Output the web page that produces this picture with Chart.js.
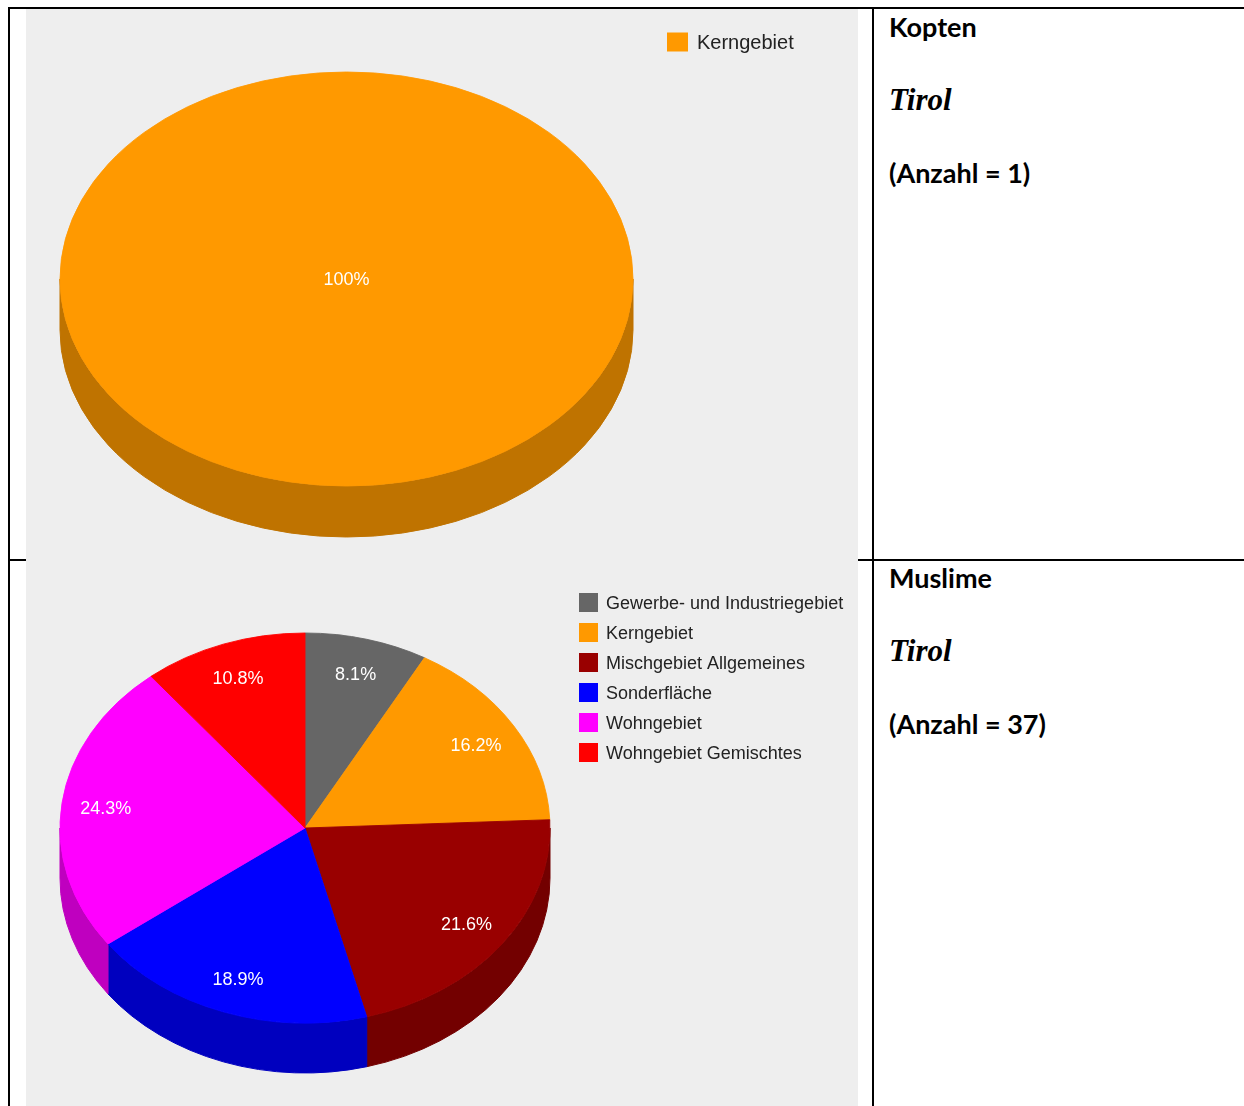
<!DOCTYPE html>
<html>
<head>
<meta charset="utf-8">
<title>Flächenwidmung – Tirol</title>
<script src="https://cdn.jsdelivr.net/npm/chart.js@4.4.1/dist/chart.umd.min.js"></script>
<style>
  html, body { margin: 0; padding: 0; background: #ffffff; }
  body { width: 1244px; height: 1106px; position: relative; overflow: hidden; }
  #frame { position: absolute; left: 0; top: 0; }
  .cell { position: absolute; background: #eeeeee; }
  .cell canvas { display: block; }
  .t-head { font-family: Lato, "Open Sans", sans-serif; font-weight: 700; font-size: 27px; fill: #000; }
  .t-region { font-family: "Liberation Serif", "DejaVu Serif", serif; font-style: italic; font-weight: 700; font-size: 31px; fill: #000; }
</style>
</head>
<body>

<svg id="frame" width="1244" height="1106">
  <!-- table rules -->
  <rect x="8" y="7" width="1236" height="2" fill="#000"/>
  <rect x="8" y="7" width="2" height="1099" fill="#000"/>
  <rect x="872" y="7" width="2" height="1099" fill="#000"/>
  <rect x="8" y="559" width="1236" height="2" fill="#000"/>
  <!-- right-hand column -->
  <text id="h1" class="t-head" x="889" y="37"></text>
  <text id="r1" class="t-region" x="889" y="110"></text>
  <text id="n1" class="t-head" x="889" y="183"></text>
  <text id="h2" class="t-head" x="889" y="588"></text>
  <text id="r2" class="t-region" x="889" y="661"></text>
  <text id="n2" class="t-head" x="889" y="734"></text>
</svg>

<div class="cell" style="left:26px;top:9px;width:832px;height:551px">
  <canvas id="pieKopten" width="832" height="551"></canvas>
</div>
<div class="cell" style="left:26px;top:560px;width:832px;height:546px">
  <canvas id="pieMuslime" width="832" height="546"></canvas>
</div>

<script>
// ---- data ----
const region = 'Tirol';

const groupKopten = 'Kopten';
const categoriesKopten = ['Kerngebiet'];
const countsKopten = [1];

const groupMuslime = 'Muslime';
const categoriesMuslime = [
  'Gewerbe- und Industriegebiet',
  'Kerngebiet',
  'Mischgebiet Allgemeines',
  'Sonderfläche',
  'Wohngebiet',
  'Wohngebiet Gemischtes'
];
const countsMuslime = [3, 6, 8, 7, 9, 4];

// ---- styles ----
const colorsKopten = ['#ff9900'];
const colorsMuslime = ['#666666', '#ff9900', '#990000', '#0000ff', '#ff00ff', '#ff0000'];

const sum = a => a.reduce((s, v) => s + v, 0);

// right-hand column text
document.getElementById('h1').textContent = groupKopten;
document.getElementById('r1').textContent = region;
document.getElementById('n1').textContent = '(Anzahl = ' + sum(countsKopten) + ')';
document.getElementById('h2').textContent = groupMuslime;
document.getElementById('r2').textContent = region;
document.getElementById('n2').textContent = '(Anzahl = ' + sum(countsMuslime) + ')';

function shade(hex, f) {
  const n = parseInt(hex.slice(1), 16);
  const r = Math.round(((n >> 16) & 255) * f);
  const g = Math.round(((n >> 8) & 255) * f);
  const b = Math.round((n & 255) * f);
  return 'rgb(' + r + ',' + g + ',' + b + ')';
}

const SANS = '"Liberation Sans", Arial, sans-serif';

// Tilted pie: draws the extruded rim below the front half of each slice,
// squashes the slice faces vertically and writes the percentage labels.
const pie3d = {
  id: 'pie3d',
  beforeDatasetsDraw(chart, args, o) {
    const ctx = chart.ctx;
    const arcs = chart.getDatasetMeta(0).data;
    if (!arcs.length) return;
    const cx = arcs[0].x, cy = arcs[0].y, r = arcs[0].outerRadius;
    const ry = r * o.tilt;
    const colors = chart.data.datasets[0].backgroundColor;
    arcs.forEach((arc, i) => {
      const a1 = Math.max(arc.startAngle, 0);
      const a2 = Math.min(arc.endAngle, Math.PI);
      if (a2 <= a1) return;
      ctx.beginPath();
      ctx.ellipse(cx, cy, r, ry, 0, a1, a2, false);
      ctx.ellipse(cx, cy + o.depth, r, ry, 0, a2, a1, true);
      ctx.closePath();
      const c = shade(colors[i], 0.75);
      ctx.fillStyle = c;
      ctx.strokeStyle = c;
      ctx.lineWidth = 1;
      ctx.fill();
      ctx.stroke();
    });
    ctx.save();
    ctx.translate(cx, cy);
    ctx.scale(1, o.tilt);
    ctx.translate(-cx, -cy);
  },
  afterDatasetsDraw(chart, args, o) {
    const ctx = chart.ctx;
    ctx.restore();
    const arcs = chart.getDatasetMeta(0).data;
    if (!arcs.length) return;
    const cx = arcs[0].x, cy = arcs[0].y, r = arcs[0].outerRadius;
    const ry = r * o.tilt;
    const values = chart.data.datasets[0].data;
    const total = sum(values);
    ctx.save();
    ctx.font = o.labelSize + 'px ' + SANS;
    ctx.fillStyle = '#ffffff';
    ctx.textAlign = 'center';
    ctx.textBaseline = 'alphabetic';
    arcs.forEach((arc, i) => {
      const pct = values[i] / total * 100;
      const txt = (Math.round(pct * 10) / 10) + '%';
      let x = cx, y = cy;
      if (pct < 100) {
        const mid = (arc.startAngle + arc.endAngle) / 2;
        x = cx + Math.cos(mid) * r * o.labelRadius;
        y = cy + Math.sin(mid) * ry * o.labelRadius;
      }
      ctx.fillText(txt, x, y + o.labelSize * 0.716 / 2);
    });
    ctx.restore();
  }
};

// Legend column: coloured square plus category name per slice.
const sideLegend = {
  id: 'sideLegend',
  afterDraw(chart, args, o) {
    const ctx = chart.ctx;
    const labels = chart.data.labels;
    const colors = chart.data.datasets[0].backgroundColor;
    ctx.save();
    ctx.font = o.fontSize + 'px ' + SANS;
    ctx.textAlign = 'left';
    ctx.textBaseline = 'alphabetic';
    labels.forEach((t, i) => {
      const yc = o.y + i * o.step;
      ctx.fillStyle = colors[i];
      ctx.fillRect(o.x, yc - o.boxH / 2, o.boxW, o.boxH);
      ctx.fillStyle = '#222222';
      ctx.fillText(t, o.textX, yc + o.fontSize * 0.716 / 2);
    });
    ctx.restore();
  }
};

function makePie(id, labels, values, colors, geo, legend) {
  return new Chart(document.getElementById(id), {
    type: 'pie',
    data: {
      labels: labels,
      datasets: [{
        data: values,
        backgroundColor: colors,
        borderColor: colors,
        borderWidth: 1,
        hoverOffset: 0,
        clip: false
      }]
    },
    options: {
      responsive: false,
      animation: false,
      events: [],
      radius: geo.radius,
      layout: { padding: geo.padding },
      plugins: {
        legend: { display: false },
        tooltip: { enabled: false },
        pie3d: { tilt: geo.tilt, depth: geo.depth, labelRadius: 0.82, labelSize: 18 },
        sideLegend: legend
      }
    },
    plugins: [pie3d, sideLegend]
  });
}

makePie('pieKopten', categoriesKopten, countsKopten, colorsKopten,
  { radius: 286.5, tilt: 207 / 286.5, depth: 51, padding: { left: 0, right: 191, top: 0, bottom: 11 } },
  { x: 641, y: 33, step: 30, boxW: 21, boxH: 19, textX: 671, fontSize: 20 });

makePie('pieMuslime', categoriesMuslime, countsMuslime, colorsMuslime,
  { radius: 245, tilt: 195 / 245, depth: 50, padding: { left: 0, right: 274, top: 0, bottom: 10 } },
  { x: 553, y: 42.5, step: 30, boxW: 19, boxH: 19, textX: 580, fontSize: 18 });
</script>
</body>
</html>
